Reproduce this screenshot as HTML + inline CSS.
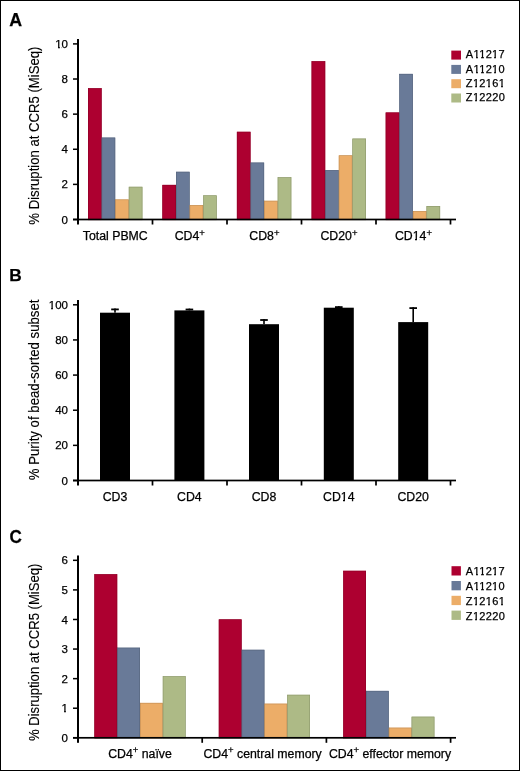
<!DOCTYPE html>
<html><head><meta charset="utf-8"><style>
html,body{margin:0;padding:0;background:#fff;}
body{width:520px;height:771px;overflow:hidden;}
svg{display:block;will-change:transform;filter:blur(0.3px);font-family:"Liberation Sans",sans-serif;}
text{fill:#000;}
.t{stroke:#000;stroke-width:0.25px;}
.r{stroke:#000;stroke-width:0.12px;}
</style></head><body>
<svg width="520" height="771" viewBox="0 0 520 771">
<rect x="0.5" y="0.5" width="519" height="770" fill="#fff" stroke="#000" stroke-width="1"/>
<text class="t" x="9.20" y="25.50" text-anchor="start"><tspan font-size="17.8" font-weight="bold">A</tspan></text>
<rect x="88.00" y="88.20" width="13.60" height="131.30" fill="#ad0030"/>
<rect x="101.40" y="137.60" width="0.80" height="81.90" fill="#ad0030"/>
<rect x="101.60" y="137.60" width="13.60" height="81.90" fill="#697a98"/>
<rect x="115.00" y="199.50" width="0.80" height="20.00" fill="#697a98"/>
<rect x="115.20" y="199.50" width="13.60" height="20.00" fill="#ecad68"/>
<rect x="128.60" y="199.50" width="0.80" height="20.00" fill="#ecad68"/>
<rect x="128.80" y="186.80" width="13.60" height="32.70" fill="#adba86"/>
<rect x="88.30" y="88.50" width="13.00" height="131.30" fill="none" stroke="#8d0027" stroke-width="0.6"/>
<rect x="101.90" y="137.90" width="13.00" height="81.90" fill="none" stroke="#56647c" stroke-width="0.6"/>
<rect x="115.50" y="199.80" width="13.00" height="20.00" fill="none" stroke="#c18d55" stroke-width="0.6"/>
<rect x="129.10" y="187.10" width="13.00" height="32.70" fill="none" stroke="#8d986d" stroke-width="0.6"/>
<rect x="162.40" y="184.90" width="13.60" height="34.60" fill="#ad0030"/>
<rect x="175.80" y="184.90" width="0.80" height="34.60" fill="#ad0030"/>
<rect x="176.00" y="171.80" width="13.60" height="47.70" fill="#697a98"/>
<rect x="189.40" y="205.10" width="0.80" height="14.40" fill="#697a98"/>
<rect x="189.60" y="205.10" width="13.60" height="14.40" fill="#ecad68"/>
<rect x="203.00" y="205.10" width="0.80" height="14.40" fill="#ecad68"/>
<rect x="203.20" y="195.40" width="13.60" height="24.10" fill="#adba86"/>
<rect x="162.70" y="185.20" width="13.00" height="34.60" fill="none" stroke="#8d0027" stroke-width="0.6"/>
<rect x="176.30" y="172.10" width="13.00" height="47.70" fill="none" stroke="#56647c" stroke-width="0.6"/>
<rect x="189.90" y="205.40" width="13.00" height="14.40" fill="none" stroke="#c18d55" stroke-width="0.6"/>
<rect x="203.50" y="195.70" width="13.00" height="24.10" fill="none" stroke="#8d986d" stroke-width="0.6"/>
<rect x="236.90" y="131.80" width="13.60" height="87.70" fill="#ad0030"/>
<rect x="250.30" y="162.60" width="0.80" height="56.90" fill="#ad0030"/>
<rect x="250.50" y="162.60" width="13.60" height="56.90" fill="#697a98"/>
<rect x="263.90" y="200.80" width="0.80" height="18.70" fill="#697a98"/>
<rect x="264.10" y="200.80" width="13.60" height="18.70" fill="#ecad68"/>
<rect x="277.50" y="200.80" width="0.80" height="18.70" fill="#ecad68"/>
<rect x="277.70" y="177.20" width="13.60" height="42.30" fill="#adba86"/>
<rect x="237.20" y="132.10" width="13.00" height="87.70" fill="none" stroke="#8d0027" stroke-width="0.6"/>
<rect x="250.80" y="162.90" width="13.00" height="56.90" fill="none" stroke="#56647c" stroke-width="0.6"/>
<rect x="264.40" y="201.10" width="13.00" height="18.70" fill="none" stroke="#c18d55" stroke-width="0.6"/>
<rect x="278.00" y="177.50" width="13.00" height="42.30" fill="none" stroke="#8d986d" stroke-width="0.6"/>
<rect x="311.60" y="61.20" width="13.60" height="158.30" fill="#ad0030"/>
<rect x="325.00" y="170.10" width="0.80" height="49.40" fill="#ad0030"/>
<rect x="325.20" y="170.10" width="13.60" height="49.40" fill="#697a98"/>
<rect x="338.60" y="170.10" width="0.80" height="49.40" fill="#697a98"/>
<rect x="338.80" y="155.40" width="13.60" height="64.10" fill="#ecad68"/>
<rect x="352.20" y="155.40" width="0.80" height="64.10" fill="#ecad68"/>
<rect x="352.40" y="138.60" width="13.60" height="80.90" fill="#adba86"/>
<rect x="311.90" y="61.50" width="13.00" height="158.30" fill="none" stroke="#8d0027" stroke-width="0.6"/>
<rect x="325.50" y="170.40" width="13.00" height="49.40" fill="none" stroke="#56647c" stroke-width="0.6"/>
<rect x="339.10" y="155.70" width="13.00" height="64.10" fill="none" stroke="#c18d55" stroke-width="0.6"/>
<rect x="352.70" y="138.90" width="13.00" height="80.90" fill="none" stroke="#8d986d" stroke-width="0.6"/>
<rect x="385.70" y="112.50" width="13.60" height="107.00" fill="#ad0030"/>
<rect x="399.10" y="112.50" width="0.80" height="107.00" fill="#ad0030"/>
<rect x="399.30" y="73.90" width="13.60" height="145.60" fill="#697a98"/>
<rect x="412.70" y="211.10" width="0.80" height="8.40" fill="#697a98"/>
<rect x="412.90" y="211.10" width="13.60" height="8.40" fill="#ecad68"/>
<rect x="426.30" y="211.10" width="0.80" height="8.40" fill="#ecad68"/>
<rect x="426.50" y="206.00" width="13.60" height="13.50" fill="#adba86"/>
<rect x="386.00" y="112.80" width="13.00" height="107.00" fill="none" stroke="#8d0027" stroke-width="0.6"/>
<rect x="399.60" y="74.20" width="13.00" height="145.60" fill="none" stroke="#56647c" stroke-width="0.6"/>
<rect x="413.20" y="211.40" width="13.00" height="8.40" fill="none" stroke="#c18d55" stroke-width="0.6"/>
<rect x="426.80" y="206.30" width="13.00" height="13.50" fill="none" stroke="#8d986d" stroke-width="0.6"/>
<rect x="77.00" y="39.00" width="2.00" height="185.50" fill="#000"/>
<rect x="73.00" y="218.65" width="383.00" height="1.70" fill="#000"/>
<rect x="73.00" y="218.75" width="4.00" height="1.50" fill="#000"/>
<text class="t" x="68.00" y="223.60" text-anchor="end"><tspan font-size="11.5">0</tspan></text>
<rect x="73.00" y="183.63" width="4.00" height="1.50" fill="#000"/>
<text class="t" x="68.00" y="188.48" text-anchor="end"><tspan font-size="11.5">2</tspan></text>
<rect x="73.00" y="148.51" width="4.00" height="1.50" fill="#000"/>
<text class="t" x="68.00" y="153.36" text-anchor="end"><tspan font-size="11.5">4</tspan></text>
<rect x="73.00" y="113.39" width="4.00" height="1.50" fill="#000"/>
<text class="t" x="68.00" y="118.24" text-anchor="end"><tspan font-size="11.5">6</tspan></text>
<rect x="73.00" y="78.27" width="4.00" height="1.50" fill="#000"/>
<text class="t" x="68.00" y="83.12" text-anchor="end"><tspan font-size="11.5">8</tspan></text>
<rect x="73.00" y="43.15" width="4.00" height="1.50" fill="#000"/>
<text class="t" x="68.00" y="48.00" text-anchor="end"><tspan font-size="11.5">10</tspan></text>
<rect x="151.65" y="219.50" width="1.70" height="5.00" fill="#000"/>
<rect x="226.15" y="219.50" width="1.70" height="5.00" fill="#000"/>
<rect x="300.65" y="219.50" width="1.70" height="5.00" fill="#000"/>
<rect x="375.15" y="219.50" width="1.70" height="5.00" fill="#000"/>
<rect x="449.65" y="219.50" width="1.70" height="5.00" fill="#000"/>
<text class="t" x="115.28" y="239.50" text-anchor="middle"><tspan font-size="12.3">Total PBMC</tspan></text>
<text class="t" x="189.82" y="239.50" text-anchor="middle"><tspan font-size="12.3">CD4</tspan><tspan font-size="9.5" dy="-3.6">+</tspan></text>
<text class="t" x="264.38" y="239.50" text-anchor="middle"><tspan font-size="12.3">CD8</tspan><tspan font-size="9.5" dy="-3.6">+</tspan></text>
<text class="t" x="338.93" y="239.50" text-anchor="middle"><tspan font-size="12.3">CD20</tspan><tspan font-size="9.5" dy="-3.6">+</tspan></text>
<text class="t" x="413.47" y="239.50" text-anchor="middle"><tspan font-size="12.3">CD14</tspan><tspan font-size="9.5" dy="-3.6">+</tspan></text>
<rect x="451.30" y="50.60" width="9.70" height="9.00" fill="#ad0030"/>
<text class="t" x="465.80" y="58.20" text-anchor="start"><tspan font-size="11" letter-spacing="0.36">A11217</tspan></text>
<rect x="451.30" y="64.90" width="9.70" height="9.00" fill="#697a98"/>
<text class="t" x="465.80" y="72.50" text-anchor="start"><tspan font-size="11" letter-spacing="0.36">A11210</tspan></text>
<rect x="451.30" y="79.20" width="9.70" height="9.00" fill="#ecad68"/>
<text class="t" x="465.80" y="86.80" text-anchor="start"><tspan font-size="11" letter-spacing="0.36">Z12161</tspan></text>
<rect x="451.30" y="93.50" width="9.70" height="9.00" fill="#adba86"/>
<text class="t" x="465.80" y="101.10" text-anchor="start"><tspan font-size="11" letter-spacing="0.36">Z12220</tspan></text>
<text class="r" transform="translate(38.90,135.60) rotate(-90) scale(0.9014,1)" text-anchor="middle" font-size="14.6">% Disruption at CCR5 (MiSeq)</text>
<text class="t" x="9.20" y="280.80" text-anchor="start"><tspan font-size="17.3" font-weight="bold">B</tspan></text>
<rect x="100.00" y="312.70" width="30.00" height="167.80" fill="#000"/>
<rect x="114.20" y="308.50" width="1.60" height="4.20" fill="#000"/>
<rect x="111.20" y="308.50" width="7.60" height="1.80" fill="#000"/>
<rect x="174.40" y="310.40" width="30.00" height="170.10" fill="#000"/>
<rect x="188.60" y="308.60" width="1.60" height="1.80" fill="#000"/>
<rect x="185.60" y="308.60" width="7.60" height="1.80" fill="#000"/>
<rect x="249.00" y="324.20" width="30.00" height="156.30" fill="#000"/>
<rect x="263.20" y="319.10" width="1.60" height="5.10" fill="#000"/>
<rect x="260.20" y="319.10" width="7.60" height="1.80" fill="#000"/>
<rect x="323.80" y="307.70" width="30.00" height="172.80" fill="#000"/>
<rect x="338.00" y="306.20" width="1.60" height="1.50" fill="#000"/>
<rect x="335.00" y="306.20" width="7.60" height="1.80" fill="#000"/>
<rect x="398.20" y="322.10" width="30.00" height="158.40" fill="#000"/>
<rect x="412.40" y="307.20" width="1.60" height="14.90" fill="#000"/>
<rect x="409.40" y="307.20" width="7.60" height="1.80" fill="#000"/>
<rect x="77.00" y="300.00" width="2.00" height="185.50" fill="#000"/>
<rect x="73.00" y="479.65" width="383.00" height="1.70" fill="#000"/>
<rect x="73.00" y="479.75" width="4.00" height="1.50" fill="#000"/>
<text class="t" x="68.00" y="484.60" text-anchor="end"><tspan font-size="11.5">0</tspan></text>
<rect x="73.00" y="444.61" width="4.00" height="1.50" fill="#000"/>
<text class="t" x="68.00" y="449.46" text-anchor="end"><tspan font-size="11.5">20</tspan></text>
<rect x="73.00" y="409.47" width="4.00" height="1.50" fill="#000"/>
<text class="t" x="68.00" y="414.32" text-anchor="end"><tspan font-size="11.5">40</tspan></text>
<rect x="73.00" y="374.33" width="4.00" height="1.50" fill="#000"/>
<text class="t" x="68.00" y="379.18" text-anchor="end"><tspan font-size="11.5">60</tspan></text>
<rect x="73.00" y="339.19" width="4.00" height="1.50" fill="#000"/>
<text class="t" x="68.00" y="344.04" text-anchor="end"><tspan font-size="11.5">80</tspan></text>
<rect x="73.00" y="304.05" width="4.00" height="1.50" fill="#000"/>
<text class="t" x="68.00" y="308.90" text-anchor="end"><tspan font-size="11.5">100</tspan></text>
<rect x="151.65" y="480.50" width="1.70" height="5.00" fill="#000"/>
<rect x="226.15" y="480.50" width="1.70" height="5.00" fill="#000"/>
<rect x="300.65" y="480.50" width="1.70" height="5.00" fill="#000"/>
<rect x="375.15" y="480.50" width="1.70" height="5.00" fill="#000"/>
<rect x="449.65" y="480.50" width="1.70" height="5.00" fill="#000"/>
<text class="t" x="115.00" y="500.80" text-anchor="middle"><tspan font-size="12.3">CD3</tspan></text>
<text class="t" x="189.40" y="500.80" text-anchor="middle"><tspan font-size="12.3">CD4</tspan></text>
<text class="t" x="264.00" y="500.80" text-anchor="middle"><tspan font-size="12.3">CD8</tspan></text>
<text class="t" x="338.80" y="500.80" text-anchor="middle"><tspan font-size="12.3">CD14</tspan></text>
<text class="t" x="413.20" y="500.80" text-anchor="middle"><tspan font-size="12.3">CD20</tspan></text>
<text class="r" transform="translate(38.80,389.90) rotate(-90) scale(0.9062,1)" text-anchor="middle" font-size="14.6">% Purity of bead-sorted subset</text>
<text class="t" transform="translate(9.50,542.70) scale(0.89,1)" text-anchor="start"><tspan font-size="19.2" font-weight="bold">C</tspan></text>
<rect x="94.40" y="574.20" width="22.80" height="163.60" fill="#ad0030"/>
<rect x="117.00" y="647.70" width="0.80" height="90.10" fill="#ad0030"/>
<rect x="117.20" y="647.70" width="22.80" height="90.10" fill="#697a98"/>
<rect x="139.80" y="702.90" width="0.80" height="34.90" fill="#697a98"/>
<rect x="140.00" y="702.90" width="22.80" height="34.90" fill="#ecad68"/>
<rect x="162.60" y="702.90" width="0.80" height="34.90" fill="#ecad68"/>
<rect x="162.80" y="676.20" width="22.80" height="61.60" fill="#adba86"/>
<rect x="94.70" y="574.50" width="22.20" height="163.60" fill="none" stroke="#8d0027" stroke-width="0.6"/>
<rect x="117.50" y="648.00" width="22.20" height="90.10" fill="none" stroke="#56647c" stroke-width="0.6"/>
<rect x="140.30" y="703.20" width="22.20" height="34.90" fill="none" stroke="#c18d55" stroke-width="0.6"/>
<rect x="163.10" y="676.50" width="22.20" height="61.60" fill="none" stroke="#8d986d" stroke-width="0.6"/>
<rect x="218.80" y="619.40" width="22.80" height="118.40" fill="#ad0030"/>
<rect x="241.40" y="649.80" width="0.80" height="88.00" fill="#ad0030"/>
<rect x="241.60" y="649.80" width="22.80" height="88.00" fill="#697a98"/>
<rect x="264.20" y="703.70" width="0.80" height="34.10" fill="#697a98"/>
<rect x="264.40" y="703.70" width="22.80" height="34.10" fill="#ecad68"/>
<rect x="287.00" y="703.70" width="0.80" height="34.10" fill="#ecad68"/>
<rect x="287.20" y="694.80" width="22.80" height="43.00" fill="#adba86"/>
<rect x="219.10" y="619.70" width="22.20" height="118.40" fill="none" stroke="#8d0027" stroke-width="0.6"/>
<rect x="241.90" y="650.10" width="22.20" height="88.00" fill="none" stroke="#56647c" stroke-width="0.6"/>
<rect x="264.70" y="704.00" width="22.20" height="34.10" fill="none" stroke="#c18d55" stroke-width="0.6"/>
<rect x="287.50" y="695.10" width="22.20" height="43.00" fill="none" stroke="#8d986d" stroke-width="0.6"/>
<rect x="343.20" y="570.80" width="22.80" height="167.00" fill="#ad0030"/>
<rect x="365.80" y="690.90" width="0.80" height="46.90" fill="#ad0030"/>
<rect x="366.00" y="690.90" width="22.80" height="46.90" fill="#697a98"/>
<rect x="388.60" y="727.70" width="0.80" height="10.10" fill="#697a98"/>
<rect x="388.80" y="727.70" width="22.80" height="10.10" fill="#ecad68"/>
<rect x="411.40" y="727.70" width="0.80" height="10.10" fill="#ecad68"/>
<rect x="411.60" y="716.70" width="22.80" height="21.10" fill="#adba86"/>
<rect x="343.50" y="571.10" width="22.20" height="167.00" fill="none" stroke="#8d0027" stroke-width="0.6"/>
<rect x="366.30" y="691.20" width="22.20" height="46.90" fill="none" stroke="#56647c" stroke-width="0.6"/>
<rect x="389.10" y="728.00" width="22.20" height="10.10" fill="none" stroke="#c18d55" stroke-width="0.6"/>
<rect x="411.90" y="717.00" width="22.20" height="21.10" fill="none" stroke="#8d986d" stroke-width="0.6"/>
<rect x="77.00" y="555.50" width="2.00" height="187.30" fill="#000"/>
<rect x="73.00" y="736.95" width="383.00" height="1.70" fill="#000"/>
<rect x="73.00" y="737.05" width="4.00" height="1.50" fill="#000"/>
<text class="t" x="68.00" y="741.90" text-anchor="end"><tspan font-size="11.5">0</tspan></text>
<rect x="73.00" y="707.47" width="4.00" height="1.50" fill="#000"/>
<text class="t" x="68.00" y="712.32" text-anchor="end"><tspan font-size="11.5">1</tspan></text>
<rect x="73.00" y="677.89" width="4.00" height="1.50" fill="#000"/>
<text class="t" x="68.00" y="682.74" text-anchor="end"><tspan font-size="11.5">2</tspan></text>
<rect x="73.00" y="648.31" width="4.00" height="1.50" fill="#000"/>
<text class="t" x="68.00" y="653.16" text-anchor="end"><tspan font-size="11.5">3</tspan></text>
<rect x="73.00" y="618.73" width="4.00" height="1.50" fill="#000"/>
<text class="t" x="68.00" y="623.58" text-anchor="end"><tspan font-size="11.5">4</tspan></text>
<rect x="73.00" y="589.15" width="4.00" height="1.50" fill="#000"/>
<text class="t" x="68.00" y="594.00" text-anchor="end"><tspan font-size="11.5">5</tspan></text>
<rect x="73.00" y="559.57" width="4.00" height="1.50" fill="#000"/>
<text class="t" x="68.00" y="564.42" text-anchor="end"><tspan font-size="11.5">6</tspan></text>
<rect x="201.35" y="737.80" width="1.70" height="5.00" fill="#000"/>
<rect x="325.55" y="737.80" width="1.70" height="5.00" fill="#000"/>
<rect x="449.75" y="737.80" width="1.70" height="5.00" fill="#000"/>
<text class="t" x="140.00" y="757.50" text-anchor="middle"><tspan font-size="12.3">CD4</tspan><tspan font-size="9.5" dy="-4.3">+</tspan><tspan font-size="12.3" dy="4.3"> naïve</tspan></text>
<text class="t" x="262.60" y="757.50" text-anchor="middle"><tspan font-size="12.3">CD4</tspan><tspan font-size="9.5" dy="-4.3">+</tspan><tspan font-size="12.3" dy="4.3"> central memory</tspan></text>
<text class="t" x="390.00" y="757.50" text-anchor="middle"><tspan font-size="12.3">CD4</tspan><tspan font-size="9.5" dy="-4.3">+</tspan><tspan font-size="12.3" dy="4.3"> effector memory</tspan></text>
<rect x="451.50" y="566.20" width="9.40" height="9.30" fill="#ad0030"/>
<text class="t" x="465.80" y="575.10" text-anchor="start"><tspan font-size="11" letter-spacing="0.36">A11217</tspan></text>
<rect x="451.50" y="581.00" width="9.40" height="9.30" fill="#697a98"/>
<text class="t" x="465.80" y="589.90" text-anchor="start"><tspan font-size="11" letter-spacing="0.36">A11210</tspan></text>
<rect x="451.50" y="595.80" width="9.40" height="9.30" fill="#ecad68"/>
<text class="t" x="465.80" y="604.70" text-anchor="start"><tspan font-size="11" letter-spacing="0.36">Z12161</tspan></text>
<rect x="451.50" y="610.60" width="9.40" height="9.30" fill="#adba86"/>
<text class="t" x="465.80" y="619.50" text-anchor="start"><tspan font-size="11" letter-spacing="0.36">Z12220</tspan></text>
<text class="r" transform="translate(38.80,652.30) rotate(-90) scale(0.8966,1)" text-anchor="middle" font-size="14.6">% Disruption at CCR5 (MiSeq)</text>
<g><rect x="55" y="46" width="3" height="4" fill="#fff"/><rect x="60" y="46" width="1" height="4" fill="#fff"/><rect x="413" y="237" width="2" height="4" fill="#fff"/><rect x="417" y="237" width="2" height="4" fill="#fff"/><rect x="474" y="56" width="2" height="4" fill="#fff"/><rect x="478" y="56" width="2" height="4" fill="#fff"/><rect x="480" y="56" width="1" height="4" fill="#fff"/><rect x="484" y="56" width="1" height="4" fill="#fff"/><rect x="492" y="56" width="2" height="4" fill="#fff"/><rect x="496" y="56" width="2" height="4" fill="#fff"/><rect x="474" y="70" width="2" height="4" fill="#fff"/><rect x="478" y="70" width="2" height="4" fill="#fff"/><rect x="480" y="70" width="1" height="4" fill="#fff"/><rect x="484" y="70" width="1" height="4" fill="#fff"/><rect x="492" y="70" width="2" height="4" fill="#fff"/><rect x="496" y="70" width="2" height="4" fill="#fff"/><rect x="473" y="84" width="2" height="5" fill="#fff"/><rect x="477" y="84" width="2" height="5" fill="#fff"/><rect x="486" y="84" width="2" height="5" fill="#fff"/><rect x="490" y="84" width="2" height="5" fill="#fff"/><rect x="499" y="84" width="2" height="5" fill="#fff"/><rect x="503" y="84" width="2" height="5" fill="#fff"/><rect x="473" y="99" width="2" height="4" fill="#fff"/><rect x="477" y="99" width="2" height="4" fill="#fff"/><rect x="49" y="306" width="2" height="5" fill="#fff"/><rect x="53" y="306" width="2" height="5" fill="#fff"/><rect x="341" y="498" width="2" height="5" fill="#fff"/><rect x="345" y="498" width="3" height="5" fill="#fff"/><rect x="62" y="710" width="2" height="4" fill="#fff"/><rect x="66" y="710" width="2" height="4" fill="#fff"/><rect x="474" y="573" width="2" height="4" fill="#fff"/><rect x="478" y="573" width="2" height="4" fill="#fff"/><rect x="480" y="573" width="1" height="4" fill="#fff"/><rect x="484" y="573" width="1" height="4" fill="#fff"/><rect x="492" y="573" width="2" height="4" fill="#fff"/><rect x="496" y="573" width="2" height="4" fill="#fff"/><rect x="474" y="587" width="2" height="5" fill="#fff"/><rect x="478" y="587" width="2" height="5" fill="#fff"/><rect x="480" y="587" width="1" height="5" fill="#fff"/><rect x="484" y="587" width="1" height="5" fill="#fff"/><rect x="492" y="587" width="2" height="5" fill="#fff"/><rect x="496" y="587" width="2" height="5" fill="#fff"/><rect x="473" y="602" width="2" height="5" fill="#fff"/><rect x="477" y="602" width="2" height="5" fill="#fff"/><rect x="486" y="602" width="2" height="5" fill="#fff"/><rect x="490" y="602" width="2" height="5" fill="#fff"/><rect x="499" y="602" width="2" height="5" fill="#fff"/><rect x="503" y="602" width="2" height="5" fill="#fff"/><rect x="473" y="617" width="2" height="4" fill="#fff"/><rect x="477" y="617" width="2" height="4" fill="#fff"/></g>
</svg></body></html>
